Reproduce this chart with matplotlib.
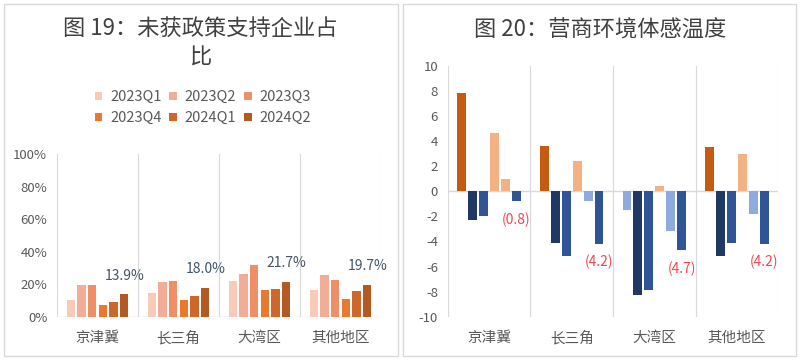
import matplotlib
matplotlib.use("Agg")
import matplotlib.pyplot as plt
from matplotlib.patches import Rectangle, Patch
import numpy as np

plt.rcParams['font.family'] = ['Noto Sans CJK SC', 'DejaVu Sans']

# ---------------- data ----------------
regions = ['京津冀', '长三角', '大湾区', '其他地区']

left_series = ['2023Q1', '2023Q2', '2023Q3', '2023Q4', '2024Q1', '2024Q2']
left_values = {
    '2023Q1': [10.2, 14.5, 21.9, 16.4],
    '2023Q2': [19.5, 21.3, 26.2, 25.6],
    '2023Q3': [19.5, 21.9, 31.6, 22.5],
    '2023Q4': [7.4, 10.2, 16.4, 10.9],
    '2024Q1': [9.0, 12.9, 17.0, 15.8],
    '2024Q2': [13.9, 18.0, 21.7, 19.7],
}
left_labels = ['13.9%', '18.0%', '21.7%', '19.7%']
left_colors = ['#F8CBB8', '#F3AC95', '#EE8F68', '#E8792F', '#D0672A', '#B35A22']
left_yticks = [0, 20, 40, 60, 80, 100]

right_values = [
    [7.8, 3.6, -1.5, 3.5],
    [-2.3, -4.1, -8.3, -5.2],
    [-2.0, -5.2, -7.9, -4.1],
    [4.6, 2.4, 0.4, 3.0],
    [1.0, -0.8, -3.2, -1.8],
    [-0.8, -4.2, -4.7, -4.2],
]
right_labels = ['(0.8)', '(4.2)', '(4.7)', '(4.2)']
right_pos_colors = ['#C55A11', '#1F3864', '#2F5597', '#F4B183', '#F4B183', '#2F5597']
right_neg_colors = ['#8FAADC', '#1F3864', '#2F5597', '#8FAADC', '#8FAADC', '#2F5597']
right_yticks = [10, 8, 6, 4, 2, 0, -2, -4, -6, -8, -10]

# ---------------- figure ----------------
W, H = 800, 361
fig = plt.figure(figsize=(8, 3.61), dpi=100)

def fx(px):
    return px / W

def fy(py):
    return 1 - py / H

# panel borders
for x0, x1 in [(4, 398), (403, 796)]:
    fig.patches.append(Rectangle((fx(x0), fy(356)), fx(x1 - x0), (356 - 4) / H,
                                 transform=fig.transFigure, fill=False,
                                 edgecolor='#D9D9D9', linewidth=1.0))

grid_c = '#D9D9D9'
tick_c = '#595959'
title_c = '#404040'

x = np.arange(len(regions))

# ---------------- left chart ----------------
axL = fig.add_axes([fx(57), fy(317), fx(324), 163 / H])
step, bw = 0.132, 0.103
for i, s in enumerate(left_series):
    off = (i - 2.5) * step
    axL.bar(x + off, left_values[s], width=bw, color=left_colors[i], label=s, zorder=3)
    if s == '2024Q2':
        for xi, v, lab in zip(x + off, left_values[s], left_labels):
            axL.annotate(lab, (xi, v), xytext=(0, 13.5), textcoords='offset points',
                         ha='center', va='center', fontsize=10, color='#44546A')
axL.set_xlim(-0.5, 3.5)
axL.set_ylim(0, 100)
axL.set_yticks(left_yticks)
axL.set_yticklabels([f'{t}%' for t in left_yticks])
axL.set_xticks(x)
axL.set_xticklabels(regions)
for b in [-0.5, 0.5, 1.5, 2.5, 3.5]:
    axL.axvline(b, color=grid_c, linewidth=0.8, zorder=1)
axL.axhline(0, color=grid_c, linewidth=1.0, zorder=2)
for sp in axL.spines.values():
    sp.set_visible(False)
axL.tick_params(axis='both', length=0, colors=tick_c)
axL.tick_params(axis='y', labelsize=9.5, pad=7)
axL.tick_params(axis='x', labelsize=10.5, pad=10)

# legend: row-wise order (matplotlib fills column-wise)
order = [0, 3, 1, 4, 2, 5]
handles = [Patch(facecolor=left_colors[k], edgecolor='none') for k in order]
labels = [left_series[k] for k in order]
fig.legend(handles, labels, loc='center', bbox_to_anchor=(fx(203), fy(107.5)),
           ncol=3, frameon=False, fontsize=10.5, handlelength=0.5, handleheight=0.5,
           handletextpad=0.55, columnspacing=0.55, labelspacing=0.5,
           labelcolor=tick_c, borderpad=0)

fig.text(fx(200), fy(42.5), '图 19：未获政策支持企业占\n比', ha='center', va='center',
         fontsize=16, color=title_c, linespacing=1.3)

# ---------------- right chart ----------------
axR = fig.add_axes([fx(447.7), fy(316.7), fx(330.6), 251 / H])
step, bw = 0.133, 0.105
for i, vals in enumerate(right_values):
    off = (i - 2.5) * step
    cols = [right_pos_colors[i] if v >= 0 else right_neg_colors[i] for v in vals]
    axR.bar(x + off, vals, width=bw, color=cols, zorder=3)
    if i == len(right_values) - 1:
        for xi, v, lab in zip(x + off, vals, right_labels):
            axR.annotate(lab, (xi, v), xytext=(0, -13.2), textcoords='offset points',
                         ha='center', va='center', fontsize=10, color='#F04650')
axR.set_xlim(-0.5, 3.5)
axR.set_ylim(-10, 10)
axR.set_yticks(right_yticks)
axR.set_yticklabels([str(t) for t in right_yticks])
axR.set_xticks(x)
axR.set_xticklabels(regions)
for b in [-0.5, 0.5, 1.5, 2.5, 3.5]:
    axR.axvline(b, color=grid_c, linewidth=0.8, zorder=1)
axR.axhline(0, color=grid_c, linewidth=1.0, zorder=2)
for sp in axR.spines.values():
    sp.set_visible(False)
axR.tick_params(axis='both', length=0, colors=tick_c)
axR.tick_params(axis='y', labelsize=9.5, pad=7)
axR.tick_params(axis='x', labelsize=10.5, pad=10)

fig.text(fx(600), fy(30), '图 20：营商环境体感温度', ha='center', va='center',
         fontsize=16, color=title_c)

fig.savefig('out.png', dpi=100)
